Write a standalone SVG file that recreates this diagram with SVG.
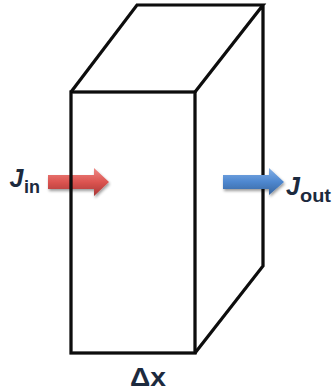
<svg xmlns="http://www.w3.org/2000/svg" width="332" height="392" viewBox="0 0 332 392">
<style>
.e{fill:none;stroke:#0a0a0a;stroke-width:3.2;stroke-linejoin:miter;filter:url(#soft)}
.t{font-family:"Liberation Sans",Arial,sans-serif;font-weight:bold;fill:#1c2a3e}
.j{font-style:italic;font-size:25px}
.s{font-size:18px}
</style>
<defs>
<filter id="soft" x="-5%" y="-5%" width="110%" height="110%"><feGaussianBlur stdDeviation="0.45"/></filter>
<filter id="sh" x="-10%" y="-20%" width="125%" height="150%"><feGaussianBlur in="SourceAlpha" stdDeviation="1.5" result="a"/><feOffset in="a" dx="1" dy="1.5" result="o"/><feComponentTransfer in="o" result="f"><feFuncA type="linear" slope="0.4"/></feComponentTransfer><feMerge><feMergeNode in="f"/><feMergeNode in="SourceGraphic"/></feMerge></filter>
<linearGradient id="r" x1="0" y1="0" x2="0" y2="1"><stop offset="0" stop-color="#ee8a86"/><stop offset="0.5" stop-color="#dc5450"/><stop offset="1" stop-color="#a83836"/></linearGradient>
<linearGradient id="b" x1="0" y1="0" x2="0" y2="1"><stop offset="0" stop-color="#84b0e6"/><stop offset="0.5" stop-color="#4f88d0"/><stop offset="1" stop-color="#36659f"/></linearGradient>
</defs>
<g id="connectors">
<path id="arrow-in" d="M48 175H94V168L109 182L94 196V189H48Z" fill="url(#r)" filter="url(#sh)"/>
</g>
<g id="box">
<rect class="e" x="71" y="92" width="124" height="261"/>
<path class="e" d="M71 92L137 5H263L195 92M263 5V266L195 353"/>
</g>
<g id="connectors-front">
<path id="arrow-out" d="M223 175H269V168L284 182L269 195V189H223Z" fill="url(#b)" filter="url(#sh)"/>
</g>
<g id="jin"><text class="t j" x="9.5" y="187">J</text><text class="t s" x="24" y="193">in</text></g>
<g id="jout"><text class="t j" x="286" y="195">J</text><text class="t s" x="300" y="202" textLength="31" lengthAdjust="spacingAndGlyphs">out</text></g>
<g id="dx"><text class="t" font-size="26" x="130" y="386" textLength="36" lengthAdjust="spacingAndGlyphs">Δx</text></g>
</svg>
